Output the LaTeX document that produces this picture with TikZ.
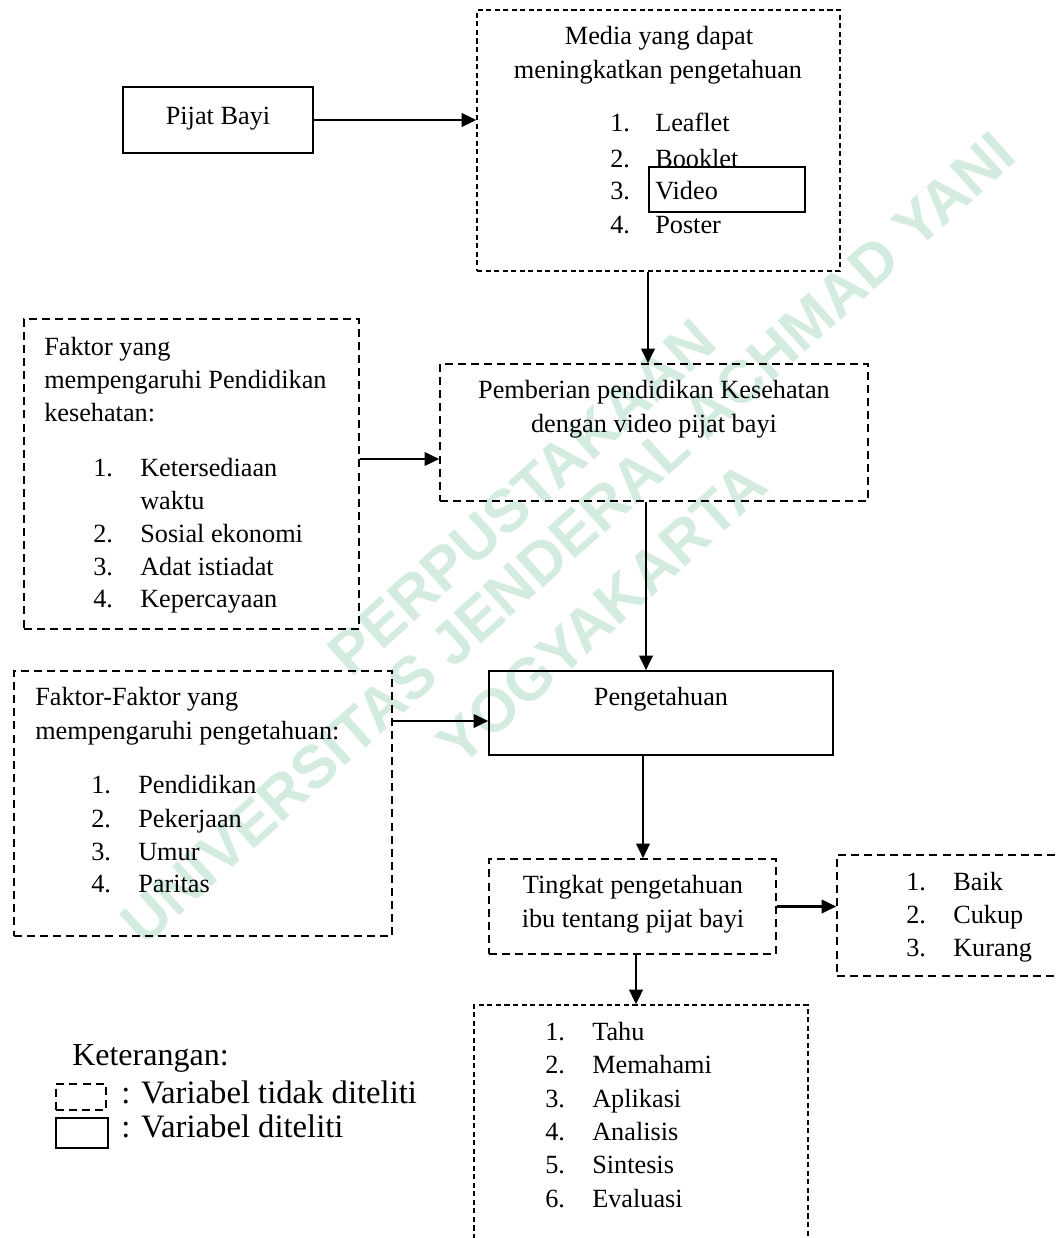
\documentclass[tikz,border=0pt]{standalone}
\usepackage{fontspec}
\setmainfont{Liberation Serif}
\newfontfamily\wmfont{Liberation Sans}
\usetikzlibrary{arrows.meta,fit}
\definecolor{wmgreen}{RGB}{212,236,223}
\tikzset{
  txt/.style={font=\fontsize{19.7}{24}\selectfont, inner sep=0pt},
  legtxt/.style={font=\fontsize{24.5}{28}\selectfont, inner sep=0pt},
  solidbox/.style={draw, line width=1.4pt, inner sep=0pt, rectangle},
  dbox/.style={draw, line width=1.1pt, dash pattern=on 6pt off 3.8pt, inner sep=0pt, rectangle},
  fbox/.style={draw, line width=0.9pt, dash pattern=on 3.8pt off 2.6pt, inner sep=0pt, rectangle},
  arr/.style={line width=2pt, -{Triangle[length=11pt,width=10pt]}},
  wm/.style={font=\wmfont\bfseries\fontsize{45}{50}\selectfont, text=wmgreen, rotate=42, inner sep=0pt}
}
\begin{document}
\begin{tikzpicture}[x=0.75pt,y=-0.75pt]
\useasboundingbox (0,0) rectangle (1057,1238);
\fill[white] (0,0) rectangle (1057,1238);

% watermark
\node[wm] (wm1) at (522,497) {PERPUSTAKAAN};
\node[wm] (wm2) at (568,538) {UNIVERSITAS JENDERAL ACHMAD YANI};
\node[wm] (wm3) at (602,614) {YOGYAKARTA};

% boxes
\node[solidbox, fit={(123,87) (313,153)}] (pijat) {};
\node[fbox, fit={(477,10) (840,271)}] (media) {};
\node[solidbox, line width=1.1pt, fit={(649,167) (805,212)}] (video) {};
\node[dbox, fit={(24,319) (359,629)}] (fak1) {};
\node[dbox, fit={(440,364) (868,501)}] (pemb) {};
\node[dbox, fit={(14,671) (392,936)}] (fak2) {};
\node[solidbox, line width=1.1pt, fit={(489,671) (833,755)}] (peng) {};
\node[dbox, fit={(489,859) (776,954)}] (ting) {};
\node[dbox, fit={(837,855) (1075,976)}] (baik) {};
\node[fbox, fit={(474,1005) (808,1260)}] (eval) {};

% texts
\node[txt, anchor=base] (tpijat) at (218,124) {Pijat Bayi};
\node[txt, anchor=base] (tm1) at (659,45) {Media yang dapat};
\node[txt, anchor=base] (tm2) at (658,79) {meningkatkan pengetahuan};
\foreach \n/\t/\y in {1/Leaflet/132, 2/Booklet/167, 3/Video/199, 4/Poster/233}{
  \node[txt, anchor=base west] (mn\n) at (610,\y) {\n.};
  \node[txt, anchor=base west] (mt\n) at (655,\y) {\t};
}
\node[txt, anchor=base] (tp1) at (654,398) {Pemberian pendidikan Kesehatan};
\node[txt, anchor=base] (tp2) at (654,432) {dengan video pijat bayi};
\node[txt, anchor=base] (tpeng) at (661,705) {Pengetahuan};
\node[txt, anchor=base] (tt1) at (633,893) {Tingkat pengetahuan};
\node[txt, anchor=base] (tt2) at (633,927) {ibu tentang pijat bayi};
\foreach \n/\t/\y in {1/Baik/890, 2/Cukup/923, 3/Kurang/956}{
  \node[txt, anchor=base west] (bn\n) at (906,\y) {\n.};
  \node[txt, anchor=base west] (bt\n) at (953,\y) {\t};
}
\foreach \n/\t/\y in {1/Tahu/1040, 2/Memahami/1073, 3/Aplikasi/1107, 4/Analisis/1140, 5/Sintesis/1173, 6/Evaluasi/1207}{
  \node[txt, anchor=base west] (en\n) at (545,\y) {\n.};
  \node[txt, anchor=base west] (et\n) at (592,\y) {\t};
}
\node[txt, anchor=base west] (f1a) at (44,355) {Faktor yang};
\node[txt, anchor=base west] (f1b) at (44,388) {mempengaruhi Pendidikan};
\node[txt, anchor=base west] (f1c) at (44,421) {kesehatan:};
\node[txt, anchor=base west] (f1n1) at (93,476) {1.};
\node[txt, anchor=base west] (f1t1) at (140,476) {Ketersediaan};
\node[txt, anchor=base west] (f1t1b) at (140,509) {waktu};
\foreach \n/\t/\y in {2/Sosial ekonomi/542, 3/Adat istiadat/575, 4/Kepercayaan/607}{
  \node[txt, anchor=base west] (f1n\n) at (93,\y) {\n.};
  \node[txt, anchor=base west] (f1t\n) at (140,\y) {\t};
}
\node[txt, anchor=base west] (f2a) at (35,705) {Faktor-Faktor yang};
\node[txt, anchor=base west] (f2b) at (35,739) {mempengaruhi pengetahuan:};
\foreach \n/\t/\y in {1/Pendidikan/793, 2/Pekerjaan/827, 3/Umur/860, 4/Paritas/892}{
  \node[txt, anchor=base west] (f2n\n) at (91,\y) {\n.};
  \node[txt, anchor=base west] (f2t\n) at (138,\y) {\t};
}

% legend
\node[legtxt, font=\fontsize{24}{28}\selectfont, anchor=base west] (legt) at (72,1065) {Keterangan:};
\node[dbox, line width=1pt, fit={(56,1084) (106,1110)}] (legd) {};
\node[solidbox, line width=1.1pt, fit={(56,1118) (108,1148)}] (legs) {};
\node[legtxt, anchor=base west] (legdt) at (121,1103) {: Variabel tidak diteliti};
\node[legtxt, anchor=base west] (legst) at (121,1137) {: Variabel diteliti};

% connector anchors
\coordinate (xa) at (648,0);
\coordinate (ya) at (0,459);
\coordinate (xb) at (646,0);
\coordinate (yb) at (0,721);
\coordinate (xc) at (643,0);
\coordinate (xd) at (636,0);

% connectors
\draw[arr] (pijat.east) -- (pijat.east -| media.west);
\draw[arr] (media.south -| xa) -- (pemb.north -| xa);
\draw[arr] (fak1.east |- ya) -- (pemb.west |- ya);
\draw[arr] (pemb.south -| xb) -- (peng.north -| xb);
\draw[arr] (fak2.east |- yb) -- (peng.west |- yb);
\draw[arr] (peng.south -| xc) -- (ting.north -| xc);
\draw[arr] (ting.east) -- (ting.east -| baik.west);
\draw[arr] (ting.south -| xd) -- (eval.north -| xd);
\end{tikzpicture}
\end{document}
